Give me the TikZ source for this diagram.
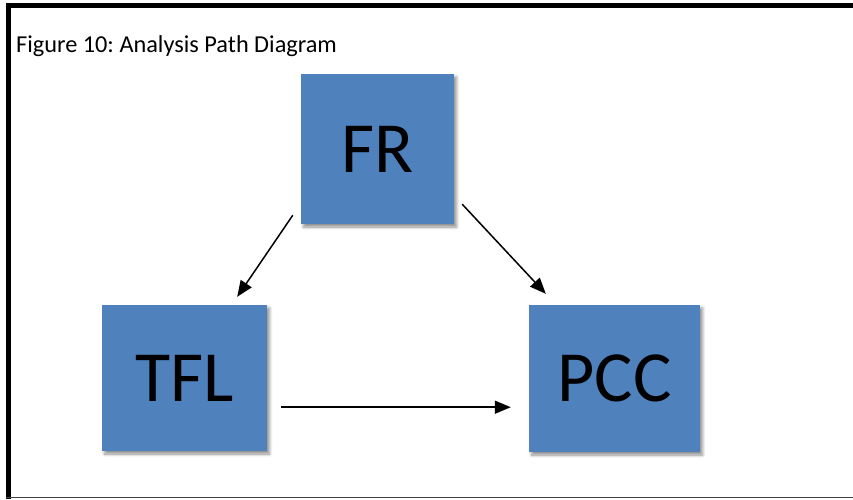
\documentclass[tikz,border=0pt]{standalone}
\usepackage{fontspec}
\setmainfont{Carlito}
\usetikzlibrary{arrows.meta,calc,shadows.blur}
\definecolor{boxblue}{HTML}{4F81BD}
\frenchspacing
\begin{document}
\begin{tikzpicture}[x=1pt,y=-1pt,
  varbox/.style={draw=none,fill=boxblue,inner sep=0pt,
    font=\fontsize{72}{80}\selectfont,text=black,
    blur shadow={shadow xshift=2.5pt,shadow yshift=-3pt,shadow blur radius=3pt,shadow blur steps=6,shadow opacity=45}},
  link/.style={line width=1.5pt,-{Triangle[length=16pt,width=13pt]}},
  frameline/.style={line width=5pt,line cap=butt}]
\useasboundingbox (0,0) rectangle (853,499);
% outer frame
\draw[frameline] (8.5,3) -- (8.5,499);
\draw[frameline] (6,5.8) -- (853,5.8);
\draw[line width=1.2pt,black!75] (6,497.5) -- (853,497.5);
% title
\node[anchor=base west,inner sep=0pt,font=\fontsize{24.3}{28}\selectfont] (title) at (16,52.3) {Figure 10: Analysis Path Diagram};
% variables
\node[varbox,minimum width=153pt,minimum height=150pt] (fr) at (377.5,149) {FR};
\node[varbox,minimum width=165pt,minimum height=146pt] (tfl) at (184.5,378) {TFL};
\node[varbox,minimum width=171pt,minimum height=147pt] (pcc) at (614.5,378.5) {PCC};
% paths
\draw[link] ($(fr.south west)+(-8,-9)$) -- ($(tfl.north east)+(-30,-8)$);
\draw[link] ($(fr.south east)+(8,-20)$) -- ($(pcc.north west)+(17,-11)$);
\draw[link] ($(tfl.south east)+(14,-44)$) -- ($(pcc.south west)+(-18,-45)$);
\end{tikzpicture}
\end{document}
